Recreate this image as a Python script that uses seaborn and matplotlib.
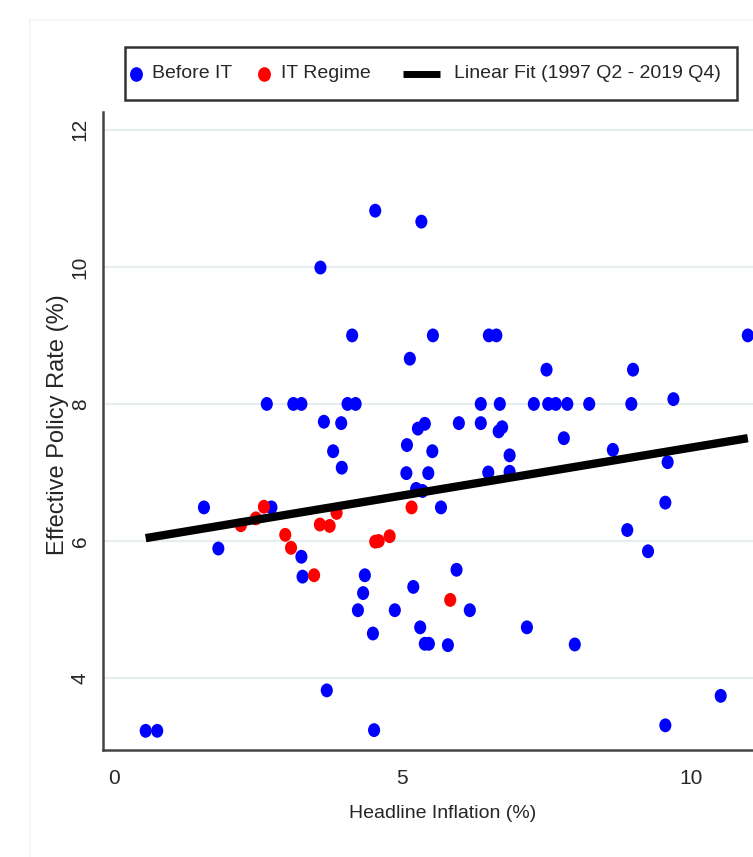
import pandas as pd
import matplotlib
matplotlib.use('Agg')
import matplotlib.pyplot as plt
from matplotlib.lines import Line2D
from matplotlib.patches import Rectangle
from matplotlib.path import Path
import seaborn as sns
import numpy as np

# Data
before_x = [0.55, 0.75, 1.56, 1.81, 2.65, 2.73, 3.11, 3.25, 3.25, 3.27,
            3.58, 3.64, 3.69, 3.80, 3.94, 3.95, 4.05, 4.13, 4.19, 4.23,
            4.32, 4.35, 4.49, 4.51, 4.53, 4.87, 5.07, 5.08, 5.13, 5.19,
            5.24, 5.27, 5.31, 5.33, 5.35, 5.39, 5.39, 5.45, 5.46, 5.52,
            5.53, 5.67, 5.79, 5.94, 5.98, 6.17, 6.36, 6.36, 6.49, 6.50,
            6.63, 6.67, 6.69, 6.73, 6.86, 6.86, 7.16, 7.28, 7.50, 7.53,
            7.66, 7.80, 7.86, 7.99, 8.24, 8.65, 8.90, 8.97, 9.00, 9.26,
            9.56, 9.60, 9.56, 9.70, 10.52, 10.99]
before_y = [3.23, 3.23, 6.49, 5.89, 8.00, 6.49, 8.00, 8.00, 5.77, 5.48,
            9.99, 7.74, 3.82, 7.31, 7.72, 7.07, 8.00, 9.00, 8.00, 4.99,
            5.24, 5.50, 4.65, 3.24, 10.82, 4.99, 6.99, 7.40, 8.66, 5.33,
            6.76, 7.64, 4.74, 10.66, 6.73, 7.71, 4.50, 6.99, 4.50, 7.31,
            9.00, 6.49, 4.48, 5.58, 7.72, 4.99, 8.00, 7.72, 7.00, 9.00,
            9.00, 7.60, 8.00, 7.66, 7.25, 7.01, 4.74, 8.00, 8.50, 8.00,
            8.00, 7.50, 8.00, 4.49, 8.00, 7.33, 6.16, 8.00, 8.50, 5.85,
            6.56, 7.15, 3.31, 8.07, 3.74, 9.00]

it_x = [2.20, 2.46, 2.60, 2.97, 3.07, 3.47, 3.57, 3.74, 3.86, 4.53, 4.59, 4.78, 5.16, 5.83]
it_y = [6.23, 6.33, 6.50, 6.09, 5.90, 5.50, 6.24, 6.22, 6.41, 5.99, 6.00, 6.07, 6.49, 5.14]

# Linear fit (1997 Q2 - 2019 Q4), as drawn in the reference
fit_intercept = 5.965
fit_slope = 0.1397

labels = ["Before IT", "IT Regime", "Linear Fit (1997 Q2 - 2019 Q4)"]
colors = {"Before IT": "#0000ff", "IT Regime": "#ff0000"}

df = pd.DataFrame({
    "inflation": before_x + it_x,
    "rate": before_y + it_y,
    "regime": ["Before IT"] * len(before_x) + ["IT Regime"] * len(it_x),
})

sns.set_style("white")
plt.rcParams['font.family'] = ['Liberation Sans', 'DejaVu Sans']

# slightly tall dots, like the reference
circ = Path.unit_circle()
dot = Path(circ.vertices * [1.0, 1.15], circ.codes)

W, H = 753, 857
fig = plt.figure(figsize=(W / 100, H / 100), dpi=100)
ax = fig.add_axes([103 / W, 107 / H, 680 / W, 638 / H])

sns.scatterplot(data=df, x="inflation", y="rate", hue="regime",
                palette=colors, s=100, marker=dot, linewidth=0,
                legend=False, ax=ax, zorder=3)

fx = np.array([df["inflation"].min(), df["inflation"].max()])
ax.plot(fx, fit_intercept + fit_slope * fx, color="black", lw=6,
        solid_capstyle="butt", zorder=4)

ax.set_xlim(-0.19, 11.6)
ax.set_ylim(2.95, 12.26)
ax.set_xticks([0, 5, 10])
ax.set_yticks([4, 6, 8, 10, 12])
ax.grid(axis="y", color="#e6ecef", lw=1.5, zorder=0)
ax.grid(axis="x", visible=False)
for side in ["top", "right"]:
    ax.spines[side].set_visible(False)
for side in ["left", "bottom"]:
    ax.spines[side].set_color("#444444")
    ax.spines[side].set_linewidth(1.8)

ax.tick_params(axis="x", direction="out", length=8, width=1.3, color="#333333",
               labelsize=15, pad=6)
ax.tick_params(axis="y", direction="out", length=7, width=1.3, color="#333333",
               labelsize=15, pad=2.5)
for lab in ax.get_yticklabels():
    lab.set_rotation(90)
    lab.set_va("center")

ax.set_xlabel("Headline Inflation (%)", fontsize=14, labelpad=12)
ax.set_ylabel("Effective Policy Rate (%)", fontsize=17)
ax.yaxis.set_label_coords((69 - 103) / 680, 0.51)

# legend box above the plot, laid out like the reference
def fx_(px):
    return px / W


def fy_(py):
    return 1 - py / H


fig.add_artist(Rectangle((fx_(125), fy_(100)), fx_(737) - fx_(125), fy_(47) - fy_(100),
                         transform=fig.transFigure, fill=False,
                         edgecolor="#333333", lw=1.8))
ly = fy_(74)
fig.add_artist(Line2D([fx_(136)], [ly], marker=dot, markersize=9.5, linestyle="none",
                      color=colors[labels[0]], transform=fig.transFigure))
fig.add_artist(Line2D([fx_(264)], [ly], marker=dot, markersize=9.5, linestyle="none",
                      color=colors[labels[1]], transform=fig.transFigure))
fig.add_artist(Line2D([fx_(403), fx_(440)], [ly, ly], color="black", lw=5,
                      solid_capstyle="butt", transform=fig.transFigure))
for px, txt in zip([152, 281, 454], labels):
    fig.text(fx_(px), ly, txt, fontsize=14, ha="left", va="center")

# faint outer graph-region border
fig.add_artist(Rectangle((fx_(30), -0.01), 1.0, fy_(20) + 0.01,
                         transform=fig.transFigure, fill=False,
                         edgecolor="#f3f3f3", lw=1.2))

fig.savefig("out.png", dpi=100)
